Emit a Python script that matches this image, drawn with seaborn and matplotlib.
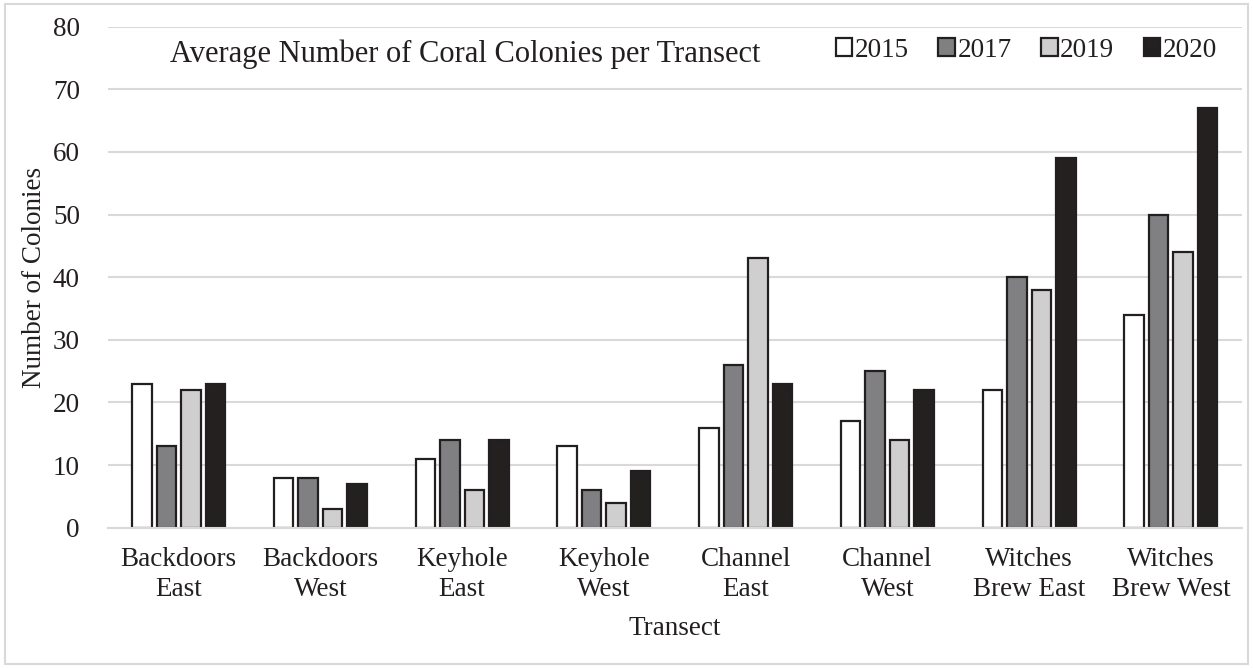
import numpy as np
import pandas as pd
import seaborn as sns
import matplotlib.pyplot as plt
from matplotlib.patches import Rectangle

# Data
transects = ['Backdoors\nEast', 'Backdoors\nWest', 'Keyhole\nEast', 'Keyhole\nWest',
             'Channel\nEast', 'Channel\nWest', 'Witches\nBrew East', 'Witches\nBrew West']
years = ['2015', '2017', '2019', '2020']
counts_2015 = [23, 8, 11, 13, 16, 17, 22, 34]
counts_2017 = [13, 8, 14, 6, 26, 25, 40, 50]
counts_2019 = [22, 3, 6, 4, 43, 14, 38, 44]
counts_2020 = [23, 7, 14, 9, 23, 22, 59, 67]

colors = ['#ffffff', '#808083', '#d0cfcf', '#231f20']

# long format for seaborn
df = pd.DataFrame({
    'Transect': transects * 4,
    'Year': np.repeat(years, len(transects)),
    'Colonies': counts_2015 + counts_2017 + counts_2019 + counts_2020,
})

sns.set_style('white')
plt.rcParams['font.family'] = ['Liberation Serif', 'DejaVu Serif']

fig = plt.figure(figsize=(12.53, 6.68), dpi=100)
ax = fig.add_axes([0.086, 0.21, 0.905, 0.75])

sns.barplot(data=df, x='Transect', y='Colonies', hue='Year', palette=colors,
            edgecolor='#231f20', linewidth=1.6, width=0.69, gap=0.2, ax=ax)

ax.set_ylim(0, 80)
ax.set_yticks(range(0, 81, 10))
ax.set_xlim(-0.5, len(transects) - 0.5)
ax.yaxis.grid(True, color='#d9d9d9', linewidth=1.5)
ax.set_axisbelow(True)
for s in ['top', 'right', 'left']:
    ax.spines[s].set_visible(False)
ax.spines['bottom'].set_color('#d9d9d9')
ax.spines['bottom'].set_linewidth(1.5)
ax.tick_params(axis='both', length=0, labelsize=19.5, colors='#231f20')
ax.tick_params(axis='y', pad=20)
ax.tick_params(axis='x', pad=14)
for lbl in ax.get_xticklabels():
    lbl.set_linespacing(1.25)

ax.set_xlabel('Transect', fontsize=19.5, color='#231f20', labelpad=10)
ax.set_ylabel('Number of Colonies', fontsize=19.5, color='#231f20', labelpad=4)

ax.text(0.055, 0.945, 'Average Number of Coral Colonies per Transect',
        transform=ax.transAxes, fontsize=22, color='#231f20', va='center')

ax.legend(loc='upper right', bbox_to_anchor=(1.0, 1.027), ncol=4, frameon=False,
          fontsize=19.5, handlelength=0.6, handleheight=0.6, handletextpad=0.1,
          columnspacing=1.1, labelcolor='#231f20')

# light border around the whole chart
fig.patches.append(Rectangle((0.004, 0.006), 0.992, 0.988, transform=fig.transFigure,
                             fill=False, edgecolor='#d9d9d9', linewidth=1.5))

plt.savefig('out.png', dpi=100)
